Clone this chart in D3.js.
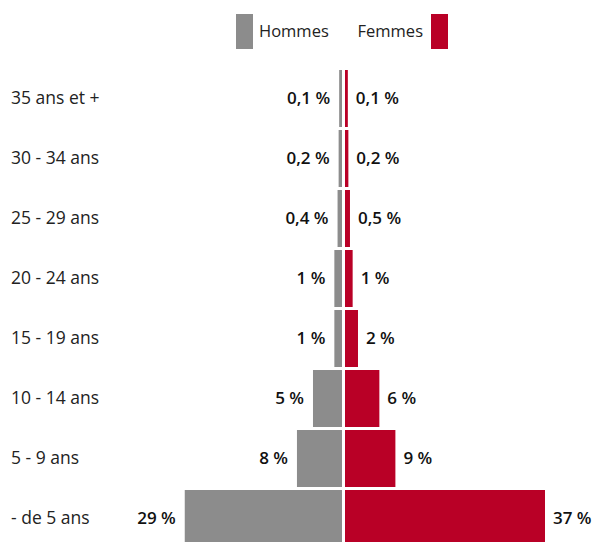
<!DOCTYPE html>
<html><head><meta charset="utf-8">
<script src="https://cdn.jsdelivr.net/npm/d3@7"></script>
<style>
html,body{margin:0;padding:0;background:#fff;}
svg{display:block;font-family:"Open Sans",sans-serif;}
</style></head>
<body>
<svg id="chart" width="596" height="542"></svg>
<script>
const categories = ["35 ans et +","30 - 34 ans","25 - 29 ans","20 - 24 ans","15 - 19 ans","10 - 14 ans","5 - 9 ans","- de 5 ans"];
const hommes = [0.1,0.2,0.4,1,1,5,8,29];
const femmes = [0.1,0.2,0.5,1,2,6,9,37];
const hommesLabels = ["0,1 %","0,2 %","0,4 %","1 %","1 %","5 %","8 %","29 %"];
const femmesLabels = ["0,1 %","0,2 %","0,5 %","1 %","2 %","6 %","9 %","37 %"];
const seriesNames = ["Hommes","Femmes"];
const colors = ["#8c8c8c","#b90026"];

const svg = d3.select("#chart");
const centerL = 342, centerR = 345;
const w = d3.scaleLinear().domain([0,37]).range([2.3,200]);
const y = d3.scaleBand().domain(categories).range([68.5,548.5]).paddingInner(0.05).paddingOuter(0.025);
const bh = y.bandwidth();

// category labels
svg.append("g").selectAll("text").data(categories).join("text")
  .attr("x",11).attr("y",d=>y(d)+bh/2+5.5)
  .attr("font-size",17.5).attr("fill","#222").text(d=>d);

// men bars
svg.append("g").selectAll("rect").data(hommes).join("rect")
  .attr("x",d=>centerL-w(d)).attr("y",(d,i)=>y(categories[i]))
  .attr("width",d=>w(d)).attr("height",bh).attr("fill",colors[0]);
// women bars
svg.append("g").selectAll("rect").data(femmes).join("rect")
  .attr("x",centerR).attr("y",(d,i)=>y(categories[i]))
  .attr("width",d=>w(d)).attr("height",bh).attr("fill",colors[1]);

// value labels
svg.append("g").selectAll("text").data(hommes).join("text")
  .attr("x",d=>centerL-w(d)-9).attr("y",(d,i)=>y(categories[i])+bh/2+5.5)
  .attr("text-anchor","end").attr("font-size",17).attr("font-weight",600).attr("fill","#111")
  .text((d,i)=>hommesLabels[i]);
svg.append("g").selectAll("text").data(femmes).join("text")
  .attr("x",d=>centerR+w(d)+8).attr("y",(d,i)=>y(categories[i])+bh/2+5.5)
  .attr("font-size",17).attr("font-weight",600).attr("fill","#111")
  .text((d,i)=>femmesLabels[i]);

// legend
const lg = svg.append("g");
lg.append("rect").attr("x",236).attr("y",14).attr("width",17).attr("height",35).attr("fill",colors[0]);
lg.append("text").attr("x",259).attr("y",37).attr("font-size",16.5).attr("fill","#222").text(seriesNames[0]);
lg.append("rect").attr("x",431).attr("y",14).attr("width",17).attr("height",35).attr("fill",colors[1]);
lg.append("text").attr("x",423).attr("y",37).attr("text-anchor","end").attr("font-size",16.5).attr("fill","#222").text(seriesNames[1]);
</script>
</body></html>
